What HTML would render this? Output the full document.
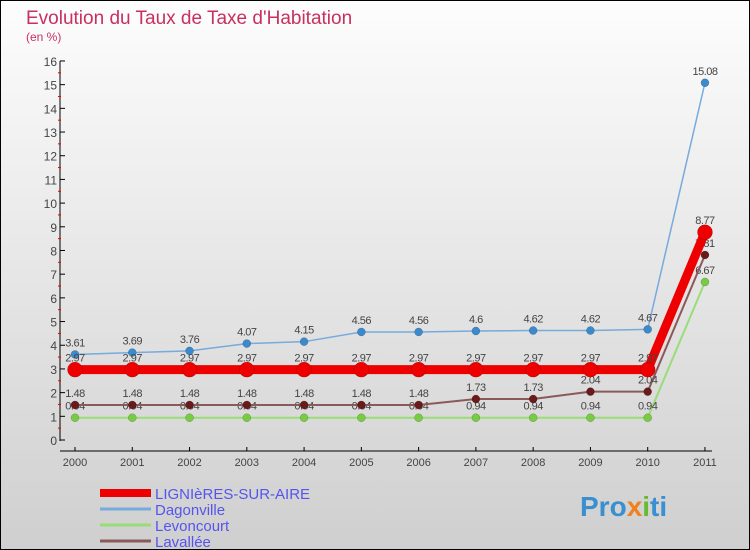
<!DOCTYPE html>
<html><head><meta charset="utf-8"><style>
body{margin:0}
#c{width:750px;height:550px;position:relative;overflow:hidden;font-family:"Liberation Sans",sans-serif;background:linear-gradient(#fdfdfd,#cfcfcf);box-sizing:border-box;border:1px solid #000}
</style></head><body>
<div id="c">
<svg id="s" width="750" height="550" style="position:absolute;left:-1px;top:-1px">
<text x="26" y="24" font-size="19" fill="#c8305f">Evolution du Taux de Taxe d'Habitation</text>
<text x="26" y="41" font-size="12" fill="#c8305f">(en %)</text>
<text x="580" y="516" font-size="28" font-weight="bold" fill="#3a8fd0">Pro<tspan fill="#f08020">x</tspan><tspan fill="#66bb33">i</tspan>ti</text>
</svg>
</div>
<script>
const years=["2000","2001","2002","2003","2004","2005","2006","2007","2008","2009","2010","2011"];
const lignieres=[2.97,2.97,2.97,2.97,2.97,2.97,2.97,2.97,2.97,2.97,2.97,8.77];
const dagonville=[3.61,3.69,3.76,4.07,4.15,4.56,4.56,4.6,4.62,4.62,4.67,15.08];
const levoncourt=[0.94,0.94,0.94,0.94,0.94,0.94,0.94,0.94,0.94,0.94,0.94,6.67];
const lavallee=[1.48,1.48,1.48,1.48,1.48,1.48,1.48,1.73,1.73,2.04,2.04,7.81];
const yTicks=[0,1,2,3,4,5,6,7,8,9,10,11,12,13,14,15,16];
const NS="http://www.w3.org/2000/svg";const svg=document.getElementById('s');
const X=i=>75+i*57.27, Y=v=>440-v*23.69;
function mk(t,a,p){const e=document.createElementNS(NS,t);for(const k in a)e.setAttribute(k,a[k]);(p||svg).appendChild(e);return e;}
let ax=mk('line',{x1:60,y1:61,x2:60,y2:441,stroke:'#000','stroke-width':1});


let xx=mk('line',{x1:60,y1:451,x2:712,y2:451,stroke:'#000','stroke-width':1});


yTicks.forEach(v=>{
 mk('line',{x1:60,y1:Y(v),x2:65,y2:Y(v),stroke:'#000'});
 if(v<16)mk('line',{x1:58,y1:Y(v+0.5),x2:61,y2:Y(v+0.5),stroke:'#e00'});
 const t=mk('text',{x:57,y:Y(v)+5,'text-anchor':'end','font-size':12,fill:'#444'});t.textContent=v;
 
 
});
years.forEach((y,i)=>{
 mk('line',{x1:X(i),y1:447,x2:X(i),y2:451,stroke:'#000'});
 const t=mk('text',{x:X(i),y:466,'text-anchor':'middle','font-size':11,fill:'#444'});t.textContent=y;
 
 
});
function series(name,data,color,w,r,dot){
 const g=mk('g',{});
 
 
 mk('polyline',{points:data.map((v,i)=>X(i)+','+Y(v)).join(' '),fill:'none',stroke:color,'stroke-width':w},g);
 data.forEach((v,i)=>{
  const c=mk('circle',{cx:X(i),cy:Y(v),r:r,fill:dot,stroke:'rgba(0,0,0,0.3)','stroke-width':0.5},g);
  
  
  const t=mk('text',{x:X(i),y:Y(v)-8,'text-anchor':'middle','font-size':11,fill:'#444','letter-spacing':'-0.5'},g);t.textContent=v;
  
  
 });
}
series('levoncourt',levoncourt,'#99dd77',2,4,'#77cc44');
series('lavallee',lavallee,'#8a5a5a',2,4,'#6a1a1a');
series('dagonville',dagonville,'#77aadd',1.5,4,'#3a8acc');
series('lignieres',lignieres,'#ee0000',9,7.5,'#ee0000');
const legend=[["LIGNIèRES-SUR-AIRE","#ee0000",8],["Dagonville","#77aadd",3],["Levoncourt","#99dd77",3],["Lavallée","#8a5a5a",3]];
legend.forEach((l,i)=>{
 const y=493+i*16;
 const ln=mk('line',{x1:100,y1:y,x2:151,y2:y,stroke:l[1],'stroke-width':l[2]});
 
 
 const t=mk('text',{x:155,y:y+6,'font-size':15,fill:'#5555ee'});t.textContent=l[0];
 
 
});
</script>
</body></html>
